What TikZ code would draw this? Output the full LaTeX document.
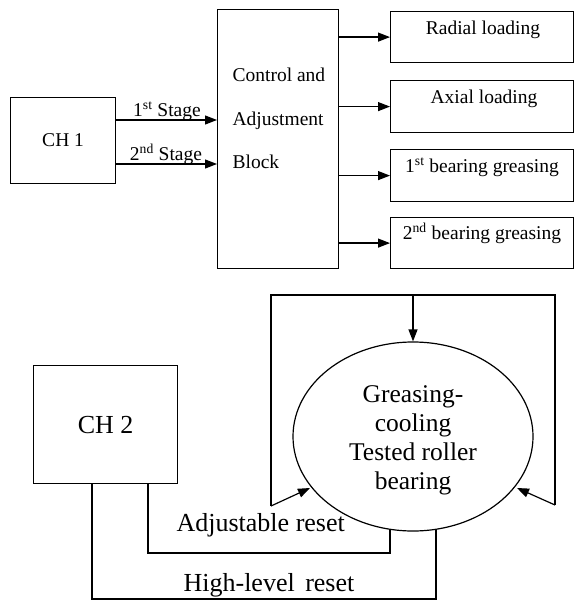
\documentclass[tikz,border=0pt]{standalone}
\usepackage{fontspec}
\setmainfont{Liberation Serif}
\usetikzlibrary{arrows.meta,shapes.geometric}
\begin{document}
\begin{tikzpicture}[x=1pt,y=-1pt,line width=1.2pt,
  box/.style={draw,inner sep=0pt},
  arr/.style={-{Triangle[length=12pt,width=9pt]}},
  small/.style={font=\fontsize{19.5}{23}\selectfont,inner sep=0pt},
  big/.style={font=\fontsize{26}{29}\selectfont,inner sep=0pt}]
\useasboundingbox (0,0) rectangle (574,601);
% ---------- top part ----------
\node[box,small,minimum width=105,minimum height=86,anchor=north west] (ch1) at (10,97) {CH 1};
\node[box,minimum width=121,minimum height=259,anchor=north west] (blk) at (217,9) {};
\node[small,anchor=base west] (b1) at (232,82) {Control and};
\node[small,anchor=base west] (b2) at (232,126) {Adjustment};
\node[small,anchor=base west] (b3) at (232,169) {Block};
\node[box,minimum width=183,minimum height=51,anchor=north west] (r1) at (390,11) {};
\node[box,minimum width=183,minimum height=52,anchor=north west] (r2) at (390,80) {};
\node[box,minimum width=183,minimum height=52,anchor=north west] (r3) at (390,149) {};
\node[box,minimum width=183,minimum height=51,anchor=north west] (r4) at (390,217) {};
\node[small,anchor=base] (t1) at (483,35) {Radial loading};
\node[small,anchor=base] (t2) at (484,104) {Axial loading};
\node[small,anchor=base] (t3) at (482,173) {1\textsuperscript{st} bearing greasing};
\node[small,anchor=base] (t4) at (482,240) {2\textsuperscript{nd} bearing greasing};
\draw[arr] (ch1.east |- 0,120) -- (blk.west |- 0,120);
\draw[arr] (ch1.east |- 0,164) -- (blk.west |- 0,164);
\node[small,anchor=base] (s1) at (167,117) {1\textsuperscript{st} Stage};
\node[small,anchor=base] (s2) at (166,161) {2\textsuperscript{nd} Stage};
\draw[arr] (blk.east |- r1) -- (r1.west);
\draw[arr] (blk.east |- r2) -- (r2.west);
\draw[arr] (blk.east |- r3) -- (r3.west);
\draw[arr] (blk.east |- r4) -- (r4.west);
% ---------- bottom part ----------
\node[box,big,minimum width=144,minimum height=118,anchor=north west] (ch2) at (33,365) {CH 2};
\node[draw,ellipse,minimum width=240,minimum height=189,inner sep=0pt] (ell) at (413,436.5) {};
\node[big,align=center,font=\fontsize{25.5}{29}\selectfont] (etxt) at (413,440) {Greasing-\\cooling\\Tested roller\\bearing};
\coordinate (lt) at (271,295);
\coordinate (rt) at (555,295);
\coordinate (lb) at (271,506);
\coordinate (rb) at (555,505);
\coordinate (tl) at (310,488);
\coordinate (tr) at (517,488);
\coordinate (ea) at (390,529.3);
\coordinate (eh) at (436,529.3);
\draw[line join=miter] (lb) -- (lt) -- (rt) -- (rb);
\draw[arr] (lb) -- (tl);
\draw[arr] (rb) -- (tr);
\draw[arr] (ell.north |- lt) -- (ell.north);
\draw (ch2.south -| 148,0) -- (148,553) -| (ea);
\draw (ch2.south -| 92,0) -- (92,599) -| (eh);
\node[big,anchor=base west] (ar) at (176,531) {Adjustable reset};
\node[big,anchor=base west] (hr) at (183,591) {High-level\hspace{4pt} reset};
\end{tikzpicture}
\end{document}
